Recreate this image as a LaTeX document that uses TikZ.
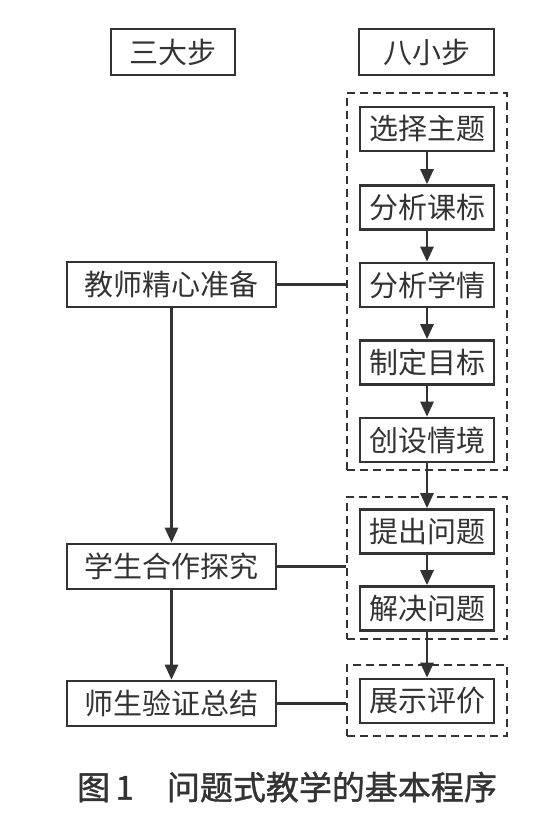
\documentclass[tikz,border=0pt]{standalone}
\usepackage{fontspec}
\newfontfamily\cjk{Noto Sans CJK SC}
\newfontfamily\cjkcap[FakeBold=1.2]{Noto Sans CJK SC}
\usetikzlibrary{arrows.meta}
\definecolor{ink}{HTML}{333333}
\begin{document}
\begin{tikzpicture}[x=1pt,y=-1pt,
  box/.style={draw=ink,line width=2.6pt,inner sep=0pt,text=ink,font=\cjk\fontsize{29}{29}\selectfont},
  lbox/.style={box,minimum width=209pt,minimum height=45pt},
  rbox/.style={box,minimum width=134pt,minimum height=44pt},
  dashbox/.style={draw=ink,line width=2.2pt,dash pattern=on 8pt off 5pt,inner sep=0pt},
  arr/.style={draw=ink,line width=2.6pt,-{Triangle[length=15pt,width=13pt]}},
  link/.style={draw=ink,line width=2.4pt}]
\useasboundingbox (0,0) rectangle (549,813);
\fill[white] (0,0) rectangle (549,813);
% headers
\node[box,minimum width=124pt,minimum height=46pt] (h1) at (173,52) {三大步};
\node[box,minimum width=135pt,minimum height=46pt] (h2) at (426.5,52) {八小步};
% dashed groups
\node[dashbox,minimum width=160pt,minimum height=377pt] (g1) at (427,281.5) {};
\node[dashbox,minimum width=160pt,minimum height=142pt] (g2) at (427,568) {};
\node[dashbox,minimum width=160pt,minimum height=71pt] (g3) at (427,700.5) {};
% right steps
\node[rbox] (r1) at (427,129) {选择主题};
\node[rbox] (r2) at (427,207.5) {分析课标};
\node[rbox] (r3) at (427,285) {分析学情};
\node[rbox] (r4) at (427,362.5) {制定目标};
\node[rbox] (r5) at (427,440) {创设情境};
\node[rbox] (r6) at (427,531.5) {提出问题};
\node[rbox] (r7) at (427,608.5) {解决问题};
\node[rbox] (r8) at (427,701) {展示评价};
% left steps
\node[lbox] (l1) at (171.5,284.5) {教师精心准备};
\node[lbox] (l2) at (171.5,566.5) {学生合作探究};
\node[lbox] (l3) at (171.5,703.5) {师生验证总结};
% arrows
\draw[arr] (r1.south) -- (r2.north);
\draw[arr] (r2.south) -- (r3.north);
\draw[arr] (r3.south) -- (r4.north);
\draw[arr] (r4.south) -- (r5.north);
\draw[arr] (r5.south) -- (r6.north);
\draw[arr] (r6.south) -- (r7.north);
\draw[arr] (r7.south) -- (r8.north);
\draw[arr] (l1.south) -- (l2.north);
\draw[arr] (l2.south) -- (l3.north);
% links
\draw[link] (l1.east) -- (l1.east -| g1.west);
\draw[link] (l2.east) -- (l2.east -| g2.west);
\draw[link] (l3.east) -- (l3.east -| g3.west);
% caption
\node[text=ink,font=\cjkcap\fontsize{33}{33}\selectfont,inner sep=0pt] (cap) at (287,787) {图\,1\quad 问题式教学的基本程序};
\end{tikzpicture}
\end{document}
